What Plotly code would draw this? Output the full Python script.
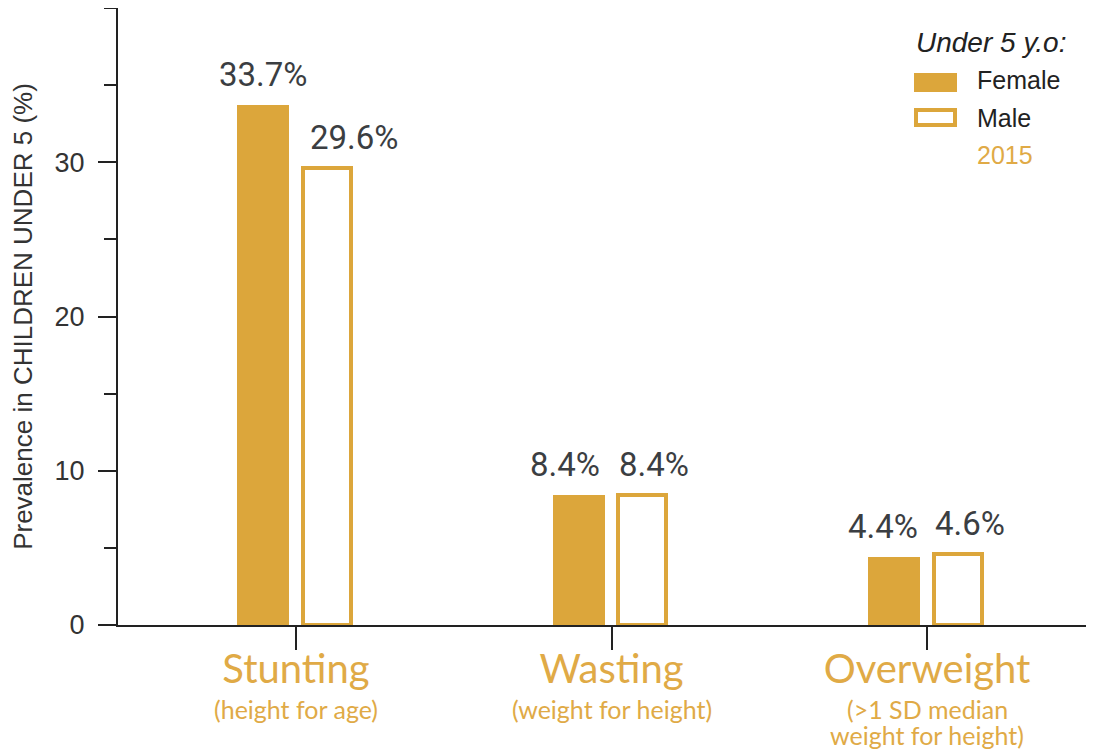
import plotly.graph_objects as go

# ---- data ----
categories = ["Stunting", "Wasting", "Overweight"]
subtitles = [["(height for age)"], ["(weight for height)"], ["(>1 SD median", "weight for height)"]]
female = [33.7, 8.4, 4.4]
male = [29.6, 8.4, 4.6]
female_labels = ["33.7%", "8.4%", "4.4%"]
male_labels = ["29.6%", "8.4%", "4.6%"]
y_ticks = [0, 10, 20, 30]
legend_title = "Under 5 y.o:"
legend_names = ["Female", "Male"]
year_label = "2015"

# ---- styles ----
GOLD = "#DCA63B"
GOLD_TXT = "#E0AA46"
DARK = "#222222"
LABEL_COL = "#3b3e42"
OFF = 8  # default page body margin
L, R, T, B = 118 - OFF, 0, 8 - OFF, 126
W, H = 1094 - OFF, 751 - OFF
PW, PH = W - L - R, H - T - B
X0, YBOT = 118, 625  # screen pixel of plot left / plot bottom

def px_x(px):
    return (px - X0) / PW

def px_y(py):
    return (YBOT - py) / PH

# label x-offsets (category units), layout tweaks
LAB_DX_F = [-0.103, -0.149, -0.139]
LAB_DX_M = [0.184, 0.136, 0.136]

xs = list(range(len(categories)))

fig = go.Figure()
fig.add_trace(go.Bar(
    x=xs, y=female, name=legend_names[0], width=0.165, offset=-0.186,
    marker=dict(color=GOLD, line=dict(width=0)), showlegend=False,
))
fig.add_trace(go.Bar(
    x=xs, y=male, name=legend_names[1], width=0.152, offset=0.022,
    marker=dict(color="white", line=dict(color=GOLD, width=4)), showlegend=False,
))

annotations = []
for i in xs:
    annotations.append(dict(x=i + LAB_DX_F[i], y=female[i], text=female_labels[i], showarrow=False,
                            xref="x", yref="y", yanchor="bottom", xanchor="center", yshift=9,
                            font=dict(family="Roboto", size=33, color=LABEL_COL)))
    annotations.append(dict(x=i + LAB_DX_M[i], y=male[i], text=male_labels[i], showarrow=False,
                            xref="x", yref="y", yanchor="bottom", xanchor="center", yshift=9,
                            font=dict(family="Roboto", size=33, color=LABEL_COL)))
    for j, line in enumerate(subtitles[i]):
        annotations.append(dict(x=i, y=px_y(709 + 26 * j), text=line, showarrow=False,
                                xref="x", yref="paper", yanchor="middle", xanchor="center",
                                borderpad=0,
                                font=dict(family="Lato", size=25, color=GOLD_TXT)))

# custom legend
annotations.append(dict(x=px_x(914), y=px_y(43), text="<i>" + legend_title + "</i>", showarrow=False,
                        xref="paper", yref="paper", xanchor="left", yanchor="middle",
                        font=dict(family="Liberation Sans", size=28, color=DARK)))
annotations.append(dict(x=px_x(975), y=px_y(80), text=legend_names[0], showarrow=False,
                        xref="paper", yref="paper", xanchor="left", yanchor="middle",
                        font=dict(family="Liberation Sans", size=25, color=DARK)))
annotations.append(dict(x=px_x(975), y=px_y(118), text=legend_names[1], showarrow=False,
                        xref="paper", yref="paper", xanchor="left", yanchor="middle",
                        font=dict(family="Liberation Sans", size=25, color=DARK)))
annotations.append(dict(x=px_x(975), y=px_y(155), text=year_label, showarrow=False,
                        xref="paper", yref="paper", xanchor="left", yanchor="middle",
                        font=dict(family="Liberation Sans", size=25, color=GOLD_TXT)))

shapes = [
    dict(type="rect", xref="paper", yref="paper", x0=px_x(914), x1=px_x(957), y0=px_y(92), y1=px_y(73),
         fillcolor=GOLD, line=dict(width=0)),
    dict(type="rect", xref="paper", yref="paper", x0=px_x(916), x1=px_x(955), y0=px_y(125), y1=px_y(110),
         fillcolor="white", line=dict(color=GOLD, width=4)),
]

fig.update_layout(
    width=W, height=H,
    margin=dict(l=L, r=R, t=T, b=B, pad=0),
    paper_bgcolor="white", plot_bgcolor="white",
    annotations=annotations, shapes=shapes,
    bargap=0, barmode="group",
    xaxis=dict(
        range=[-0.564, 2.529], tickvals=xs, ticktext=categories,
        showline=True, linecolor=DARK, linewidth=2,
        ticks="outside", ticklen=23, tickwidth=1.5, tickcolor=DARK,
        ticklabelstandoff=-15,
        tickfont=dict(family="Lato", size=40, color=GOLD_TXT),
        showgrid=False, zeroline=False,
    ),
    yaxis=dict(
        range=[0, 40], tickvals=y_ticks,
        showline=True, linecolor=DARK, linewidth=2,
        ticks="outside", ticklen=18, tickwidth=1.5, tickcolor=DARK,
        ticklabelstandoff=8,
        minor=dict(dtick=5, ticks="outside", ticklen=12, tickwidth=1.5, tickcolor=DARK),
        tickfont=dict(family="Liberation Sans", size=27, color="#333333"),
        showgrid=False, zeroline=False,
        title=dict(text="Prevalence in CHILDREN UNDER 5 (%)", standoff=16,
                   font=dict(family="Liberation Sans", size=26, color="#333333")),
    ),
)

fig.write_html("out.html")
